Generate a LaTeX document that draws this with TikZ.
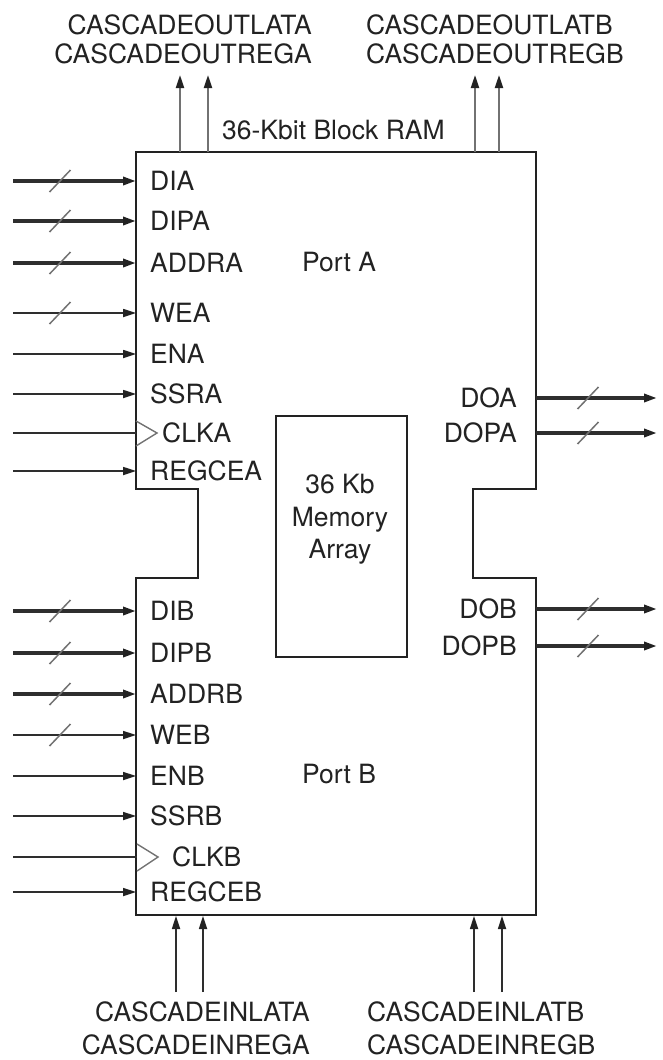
\documentclass[tikz,border=0pt]{standalone}
\usepackage{fontspec}
\setmainfont{TeX Gyre Heros}
\usetikzlibrary{arrows.meta}
\definecolor{ink}{HTML}{222222}
\definecolor{wire}{HTML}{2E2E2E}
\definecolor{soft}{HTML}{727272}
\begin{document}
\begin{tikzpicture}[x=1pt,y=-1pt,
  lbl/.style={font=\fontsize{26.5}{30}\selectfont, text=ink, inner sep=0pt},
  blockline/.style={draw=ink, line width=2.8pt, line join=miter},
  tip/.style={-{Triangle[length=13pt,width=8pt,color=ink]}},
  bus/.style={tip, draw=wire, line width=3.2pt},
  sig/.style={tip, draw=wire, line width=1.7pt},
  casc/.style={tip, draw=soft, line width=2.1pt},
  cascin/.style={tip, draw=wire, line width=1.7pt},
  clkline/.style={draw=wire, line width=1.7pt},
  clktri/.style={draw=soft, line width=1.4pt, line join=miter},
  slash/.style={draw=soft, line width=1.5pt},
  memline/.style={draw=ink, line width=2.6pt}
]
\useasboundingbox (0,0) rectangle (662,1060);

% ---- main block outline
\draw[blockline] (136,152) -- (536,152) -- (536,489) -- (473,489) -- (473,578)
  -- (536,578) -- (536,915) -- (136,915) -- (136,578) -- (198,578) -- (198,489)
  -- (136,489) -- cycle;

% ---- memory array
\node[memline, draw, minimum width=131pt, minimum height=241pt, inner sep=0pt] (mem) at (341.5,536.5) {};
\node[lbl, anchor=base] (m1) at (340,493) {36 Kb};
\node[lbl, anchor=base] (m2) at (340,526) {Memory};
\node[lbl, anchor=base] (m3) at (340,558) {Array};

% ---- titles
\node[lbl, anchor=base west] (title) at (222,139.4) {36-Kbit Block RAM};
\node[lbl, anchor=base west] (porta) at (302,271.4) {Port A};
\node[lbl, anchor=base west] (portb) at (302,783.4) {Port B};

% ---- left inputs
\foreach \nm/\yy in {DIA/181, DIPA/221, ADDRA/263, WEA/313, ENA/354, SSRA/394, REGCEA/471,
                     DIB/611, DIPB/653, ADDRB/694, WEB/735, ENB/776, SSRB/816, REGCEB/892}{
  \coordinate (s\nm) at (13,\yy);
  \coordinate (e\nm) at (136,\yy);
  \node[lbl, anchor=base west] (t\nm) at (150,\yy+9.5) {\nm};
}
\foreach \nm in {DIA, DIPA, ADDRA, DIB, DIPB, ADDRB}{
  \draw[bus] (s\nm) -- (e\nm);
  \draw[slash] ([xshift=47pt]s\nm) ++(-10.5,11) -- ++(21,-22);
}
\foreach \nm in {WEA, WEB}{
  \draw[sig] (s\nm) -- (e\nm);
  \draw[slash] ([xshift=47pt]s\nm) ++(-10.5,11) -- ++(21,-22);
}
\foreach \nm in {ENA, SSRA, REGCEA, ENB, SSRB, REGCEB}{
  \draw[sig] (s\nm) -- (e\nm);
}

% ---- clocks
\coordinate (sCLKA) at (13,433);
\coordinate (eCLKA) at (136,433);
\draw[clkline] (sCLKA) -- (eCLKA);
\draw[clktri] (136,421) -- (157,433) -- (136,446);
\node[lbl, anchor=base west] (tCLKA) at (162,442.5) {CLKA};

\coordinate (sCLKB) at (13,857);
\coordinate (eCLKB) at (137,857);
\draw[clkline] (sCLKB) -- (eCLKB);
\draw[clktri] (137,844) -- (158,857) -- (137,871);
\node[lbl, anchor=base west] (tCLKB) at (172,866.5) {CLKB};

% ---- right outputs
\foreach \nm/\yy in {DOA/398, DOPA/433, DOB/609, DOPB/646}{
  \coordinate (s\nm) at (536,\yy);
  \coordinate (e\nm) at (657,\yy);
  \node[lbl, anchor=base east] (t\nm) at (517,\yy+9.5) {\nm};
  \draw[bus] (s\nm) -- (e\nm);
  \draw[slash] ([xshift=52pt]s\nm) ++(-10.5,11) -- ++(21,-22);
}

% ---- cascade outputs (top)
\foreach \i/\xx in {1/180, 2/208, 3/475, 4/499}{
  \coordinate (cob\i) at (\xx,152);
  \coordinate (cot\i) at (\xx,75);
  \draw[casc] (cob\i) -- (cot\i);
}
\node[lbl, anchor=base east] (col1) at (312,34.5) {CASCADEOUTLATA};
\node[lbl, anchor=base east] (col2) at (312,63.5) {CASCADEOUTREGA};
\node[lbl, anchor=base west] (cor1) at (366,34.5) {CASCADEOUTLATB};
\node[lbl, anchor=base west] (cor2) at (366,63.5) {CASCADEOUTREGB};

% ---- cascade inputs (bottom)
\foreach \i/\xx in {1/176, 2/203, 3/474, 4/502}{
  \coordinate (cis\i) at (\xx,992);
  \coordinate (cie\i) at (\xx,916);
  \draw[cascin] (cis\i) -- (cie\i);
}
\node[lbl, anchor=base east] (cil1) at (310,1021) {CASCADEINLATA};
\node[lbl, anchor=base east] (cil2) at (310,1054) {CASCADEINREGA};
\node[lbl, anchor=base west] (cir1) at (367,1021) {CASCADEINLATB};
\node[lbl, anchor=base west] (cir2) at (367,1054) {CASCADEINREGB};
\end{tikzpicture}
\end{document}
